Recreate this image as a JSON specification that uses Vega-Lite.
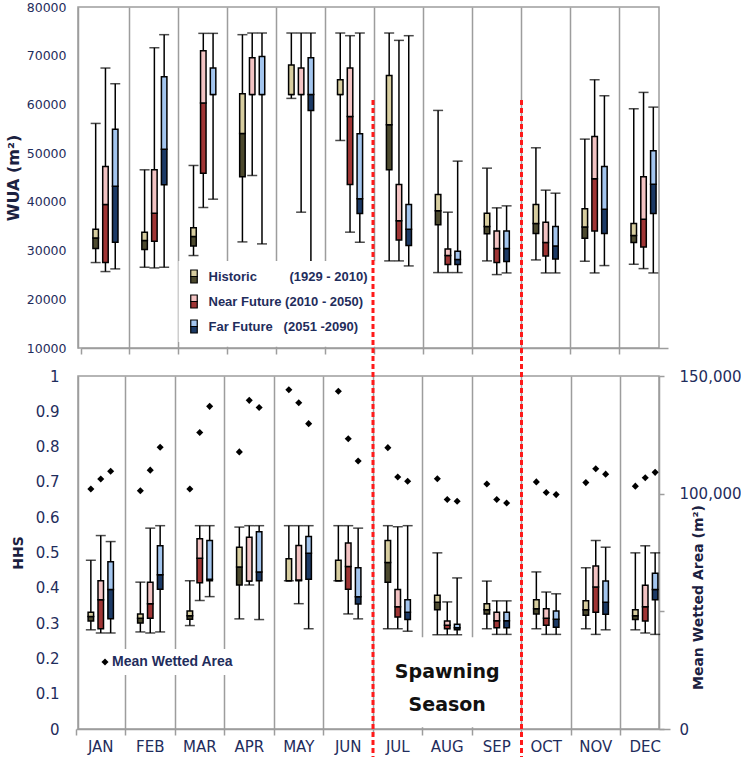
{
"$schema": "https://vega.github.io/schema/vega-lite/v6.json",
"padding": {"left": 4, "top": 0, "right": 0, "bottom": 0},
"background": "white",
"bounds": "flush",
"spacing": 28,
"config": {
  "view": {"stroke": "#9d9d9d", "strokeWidth": 1.5},
  "axis": {"labelFont": "DejaVu Sans", "titleFont": "DejaVu Sans", "labelColor": "#1f2d5c", "titleColor": "#1b2140", "domainColor": "#9d9d9d", "tickColor": "#9d9d9d", "gridColor": "#9d9d9d", "domainWidth": 1.5, "tickWidth": 1.5, "gridWidth": 1.5, "titleFontWeight": "bold", "labelOverlap": false},
  "legend": {"title": null}
},
"datasets": {
  "wua": [
    {"m":"JAN","s":"Historic","lo":27540,"q1":30410,"md":32600,"q3":34400,"hi":56100},
    {"m":"JAN","s":"Near Future","lo":25690,"q1":27540,"md":39450,"q3":47260,"hi":67470},
    {"m":"JAN","s":"Far Future","lo":26240,"q1":31710,"md":43220,"q3":54930,"hi":64250},
    {"m":"FEB","s":"Historic","lo":26580,"q1":30210,"md":32060,"q3":33770,"hi":46580},
    {"m":"FEB","s":"Near Future","lo":26440,"q1":31920,"md":37670,"q3":46580,"hi":71640},
    {"m":"FEB","s":"Far Future","lo":26580,"q1":43490,"md":50820,"q3":65690,"hi":74320},
    {"m":"MAR","s":"Historic","lo":28980,"q1":30960,"md":32880,"q3":34660,"hi":47470},
    {"m":"MAR","s":"Near Future","lo":38840,"q1":45890,"md":60270,"q3":71030,"hi":74590},
    {"m":"MAR","s":"Far Future","lo":40550,"q1":62060,"md":62060,"q3":67470,"hi":74590},
    {"m":"APR","s":"Historic","lo":31780,"q1":45140,"md":54040,"q3":62190,"hi":74320},
    {"m":"APR","s":"Near Future","lo":45410,"q1":62060,"md":62060,"q3":69590,"hi":74660},
    {"m":"APR","s":"Far Future","lo":31370,"q1":62060,"md":62060,"q3":69860,"hi":74660},
    {"m":"MAY","s":"Historic","lo":61240,"q1":62060,"md":62060,"q3":68080,"hi":74660},
    {"m":"MAY","s":"Near Future","lo":37880,"q1":62060,"md":62060,"q3":67470,"hi":74660},
    {"m":"MAY","s":"Far Future","lo":27540,"q1":58770,"md":62060,"q3":69590,"hi":74660},
    {"m":"JUN","s":"Historic","lo":52600,"q1":62060,"md":62060,"q3":65070,"hi":74660},
    {"m":"JUN","s":"Near Future","lo":33780,"q1":43570,"md":57540,"q3":67470,"hi":74110},
    {"m":"JUN","s":"Far Future","lo":31710,"q1":37610,"md":40620,"q3":53980,"hi":74660},
    {"m":"JUL","s":"Historic","lo":27880,"q1":46580,"md":55820,"q3":65960,"hi":74660},
    {"m":"JUL","s":"Near Future","lo":27880,"q1":32190,"md":36100,"q3":43570,"hi":73150},
    {"m":"JUL","s":"Far Future","lo":26850,"q1":31030,"md":34390,"q3":39450,"hi":74110},
    {"m":"AUG","s":"Historic","lo":25480,"q1":35280,"md":38150,"q3":41510,"hi":58770},
    {"m":"AUG","s":"Near Future","lo":25480,"q1":27120,"md":28970,"q3":30340,"hi":37880},
    {"m":"AUG","s":"Far Future","lo":25480,"q1":27120,"md":28150,"q3":29860,"hi":48360},
    {"m":"SEP","s":"Historic","lo":27880,"q1":33430,"md":34930,"q3":37670,"hi":46920},
    {"m":"SEP","s":"Near Future","lo":25070,"q1":27540,"md":30410,"q3":34040,"hi":38770},
    {"m":"SEP","s":"Far Future","lo":25410,"q1":27740,"md":30410,"q3":34040,"hi":39180},
    {"m":"OCT","s":"Historic","lo":28080,"q1":33500,"md":35550,"q3":39450,"hi":51100},
    {"m":"OCT","s":"Near Future","lo":25410,"q1":28900,"md":31640,"q3":35820,"hi":42400},
    {"m":"OCT","s":"Far Future","lo":25410,"q1":28290,"md":30960,"q3":34930,"hi":41780},
    {"m":"NOV","s":"Historic","lo":27810,"q1":32530,"md":34860,"q3":38560,"hi":52880},
    {"m":"NOV","s":"Near Future","lo":25410,"q1":34040,"md":44730,"q3":53420,"hi":65070},
    {"m":"NOV","s":"Far Future","lo":26920,"q1":33500,"md":38500,"q3":47260,"hi":61780},
    {"m":"DEC","s":"Historic","lo":27190,"q1":31640,"md":33090,"q3":35550,"hi":59110},
    {"m":"DEC","s":"Near Future","lo":26300,"q1":30750,"md":36440,"q3":45140,"hi":62470},
    {"m":"DEC","s":"Far Future","lo":25410,"q1":37610,"md":43630,"q3":50480,"hi":59450}
  ],
  "hhs": [
    {"m":"JAN","s":"Historic","lo":0.281,"q1":0.306,"md":0.319,"q3":0.331,"hi":0.478},
    {"m":"JAN","s":"Near Future","lo":0.272,"q1":0.284,"md":0.366,"q3":0.420,"hi":0.548},
    {"m":"JAN","s":"Far Future","lo":0.272,"q1":0.312,"md":0.395,"q3":0.474,"hi":0.531},
    {"m":"FEB","s":"Historic","lo":0.275,"q1":0.300,"md":0.314,"q3":0.326,"hi":0.416},
    {"m":"FEB","s":"Near Future","lo":0.272,"q1":0.314,"md":0.355,"q3":0.416,"hi":0.569},
    {"m":"FEB","s":"Far Future","lo":0.275,"q1":0.396,"md":0.437,"q3":0.519,"hi":0.576},
    {"m":"MAR","s":"Historic","lo":0.293,"q1":0.311,"md":0.321,"q3":0.334,"hi":0.420},
    {"m":"MAR","s":"Near Future","lo":0.364,"q1":0.414,"md":0.484,"q3":0.539,"hi":0.576},
    {"m":"MAR","s":"Far Future","lo":0.375,"q1":0.420,"md":0.424,"q3":0.534,"hi":0.576},
    {"m":"APR","s":"Historic","lo":0.312,"q1":0.408,"md":0.459,"q3":0.515,"hi":0.572},
    {"m":"APR","s":"Near Future","lo":0.408,"q1":0.419,"md":0.419,"q3":0.543,"hi":0.576},
    {"m":"APR","s":"Far Future","lo":0.310,"q1":0.420,"md":0.445,"q3":0.559,"hi":0.576},
    {"m":"MAY","s":"Historic","lo":0.420,"q1":0.420,"md":0.420,"q3":0.482,"hi":0.576},
    {"m":"MAY","s":"Near Future","lo":0.355,"q1":0.420,"md":0.422,"q3":0.520,"hi":0.576},
    {"m":"MAY","s":"Far Future","lo":0.284,"q1":0.424,"md":0.498,"q3":0.545,"hi":0.576},
    {"m":"JUN","s":"Historic","lo":0.420,"q1":0.420,"md":0.420,"q3":0.478,"hi":0.576},
    {"m":"JUN","s":"Near Future","lo":0.326,"q1":0.396,"md":0.460,"q3":0.527,"hi":0.576},
    {"m":"JUN","s":"Far Future","lo":0.312,"q1":0.354,"md":0.375,"q3":0.457,"hi":0.569},
    {"m":"JUL","s":"Historic","lo":0.284,"q1":0.416,"md":0.472,"q3":0.534,"hi":0.576},
    {"m":"JUL","s":"Near Future","lo":0.284,"q1":0.317,"md":0.346,"q3":0.395,"hi":0.573},
    {"m":"JUL","s":"Far Future","lo":0.277,"q1":0.310,"md":0.331,"q3":0.366,"hi":0.576},
    {"m":"AUG","s":"Historic","lo":0.267,"q1":0.338,"md":0.359,"q3":0.379,"hi":0.499},
    {"m":"AUG","s":"Near Future","lo":0.267,"q1":0.284,"md":0.294,"q3":0.306,"hi":0.360},
    {"m":"AUG","s":"Far Future","lo":0.267,"q1":0.281,"md":0.287,"q3":0.297,"hi":0.428},
    {"m":"SEP","s":"Historic","lo":0.284,"q1":0.326,"md":0.338,"q3":0.355,"hi":0.419},
    {"m":"SEP","s":"Near Future","lo":0.268,"q1":0.287,"md":0.307,"q3":0.331,"hi":0.363},
    {"m":"SEP","s":"Far Future","lo":0.268,"q1":0.287,"md":0.307,"q3":0.331,"hi":0.363},
    {"m":"OCT","s":"Historic","lo":0.284,"q1":0.326,"md":0.341,"q3":0.366,"hi":0.445},
    {"m":"OCT","s":"Near Future","lo":0.268,"q1":0.294,"md":0.314,"q3":0.341,"hi":0.388},
    {"m":"OCT","s":"Far Future","lo":0.268,"q1":0.288,"md":0.311,"q3":0.334,"hi":0.383},
    {"m":"NOV","s":"Historic","lo":0.284,"q1":0.322,"md":0.338,"q3":0.363,"hi":0.457},
    {"m":"NOV","s":"Near Future","lo":0.268,"q1":0.331,"md":0.402,"q3":0.462,"hi":0.534},
    {"m":"NOV","s":"Far Future","lo":0.281,"q1":0.325,"md":0.359,"q3":0.419,"hi":0.515},
    {"m":"DEC","s":"Historic","lo":0.281,"q1":0.310,"md":0.321,"q3":0.338,"hi":0.499},
    {"m":"DEC","s":"Near Future","lo":0.272,"q1":0.306,"md":0.346,"q3":0.407,"hi":0.519},
    {"m":"DEC","s":"Far Future","lo":0.268,"q1":0.366,"md":0.395,"q3":0.441,"hi":0.499}
  ],
  "mwa": [
    {"m":"JAN","s":"Historic","v":102000},{"m":"JAN","s":"Near Future","v":106200},{"m":"JAN","s":"Far Future","v":109500},
    {"m":"FEB","s":"Historic","v":101250},{"m":"FEB","s":"Near Future","v":110000},{"m":"FEB","s":"Far Future","v":119700},
    {"m":"MAR","s":"Historic","v":102000},{"m":"MAR","s":"Near Future","v":126000},{"m":"MAR","s":"Far Future","v":137100},
    {"m":"APR","s":"Historic","v":117750},{"m":"APR","s":"Near Future","v":139650},{"m":"APR","s":"Far Future","v":136650},
    {"m":"MAY","s":"Historic","v":144150},{"m":"MAY","s":"Near Future","v":138600},{"m":"MAY","s":"Far Future","v":129750},
    {"m":"JUN","s":"Historic","v":143550},{"m":"JUN","s":"Near Future","v":123300},{"m":"JUN","s":"Far Future","v":113850},
    {"m":"JUL","s":"Historic","v":119550},{"m":"JUL","s":"Near Future","v":107100},{"m":"JUL","s":"Far Future","v":105300},
    {"m":"AUG","s":"Historic","v":106350},{"m":"AUG","s":"Near Future","v":97500},{"m":"AUG","s":"Far Future","v":96750},
    {"m":"SEP","s":"Historic","v":104100},{"m":"SEP","s":"Near Future","v":97500},{"m":"SEP","s":"Far Future","v":96000},
    {"m":"OCT","s":"Historic","v":105000},{"m":"OCT","s":"Near Future","v":100500},{"m":"OCT","s":"Far Future","v":99600},
    {"m":"NOV","s":"Historic","v":104700},{"m":"NOV","s":"Near Future","v":110550},{"m":"NOV","s":"Far Future","v":108300},
    {"m":"DEC","s":"Historic","v":103200},{"m":"DEC","s":"Near Future","v":106800},{"m":"DEC","s":"Far Future","v":109050}
  ]
},
"vconcat": [
  {
    "width": 581, "height": 341,
    "layer": [
      {"data": {"name": "wua"},
       "encoding": {
         "x": {"field": "m", "type": "nominal",
           "scale": {"domain": ["JAN","FEB","MAR","APR","MAY","JUN","JUL","AUG","SEP","OCT","NOV","DEC"], "range": [3, 590], "paddingInner": 0, "paddingOuter": 0},
           "axis": {"title": null, "labels": false, "ticks": true, "tickSize": 6, "bandPosition": 0, "grid": true,
             "gridOpacity": {"condition": {"test": "datum.value == 'JAN'", "value": 0}, "value": 1}}},
         "xOffset": {"field": "s", "type": "nominal", "scale": {"domain": ["Historic","Near Future","Far Future"], "paddingInner": 0, "paddingOuter": 1}}
       },
       "layer": [
         {"mark": {"type": "rule", "color": "black", "strokeWidth": 1.5},
          "encoding": {
            "y": {"field": "lo", "type": "quantitative", "scale": {"domain": [10000, 80000], "nice": false, "zero": false},
              "axis": {"title": "WUA (m²)", "values": [10000,20000,30000,40000,50000,60000,70000,80000], "format": "d", "ticks": false, "grid": false, "labelPadding": 12, "labelFontSize": 12.5, "titleFontSize": 16, "titleX": -65, "titleBaseline": "middle"}},
            "y2": {"field": "hi"}}},
         {"mark": {"type": "tick", "color": "black", "thickness": 1.5, "size": 10}, "encoding": {"y": {"field": "lo", "type": "quantitative"}}},
         {"mark": {"type": "tick", "color": "black", "thickness": 1.5, "size": 10}, "encoding": {"y": {"field": "hi", "type": "quantitative"}}},
         {"mark": {"type": "bar", "width": 5.5, "stroke": "black", "strokeWidth": 1.5},
          "encoding": {
            "y": {"field": "q1", "type": "quantitative"}, "y2": {"field": "md"},
            "color": {"field": "s", "type": "nominal", "sort": ["Historic","Near Future","Far Future"], "scale": {"range": ["#4d4a2e","#a03535","#1c3a66"]},
              "legend": {"title": null, "orient": "none", "legendX": 100.5, "legendY": 254, "symbolType": "M-0.5,0H0.5V1H-0.5Z", "symbolSize": 169, "symbolStrokeColor": "black", "symbolStrokeWidth": 1.2, "symbolOpacity": 1, "labelFont": "Liberation Sans", "labelFontWeight": "bold", "labelFontSize": 13, "labelColor": "transparent", "labelOffset": 7, "rowPadding": 8, "padding": 8, "zindex": 2, "labelLimit": 400,
                "labelExpr": "datum.label == 'Historic' ? 'Historic\u00a0\u00a0\u00a0\u00a0\u00a0\u00a0\u00a0\u00a0\u00a0(1929 - 2010)' : datum.label == 'Near Future' ? 'Near Future (2010 - 2050)' : '\u00a0Far Future\u00a0\u00a0\u00a0(2051 -2090)'"}}}},
         {"mark": {"type": "bar", "width": 5.5, "stroke": "black", "strokeWidth": 1.5},
          "encoding": {
            "y": {"field": "md", "type": "quantitative"}, "y2": {"field": "q3"},
            "fill": {"field": "s", "type": "nominal", "scale": {"domain": ["Historic","Near Future","Far Future"], "range": ["#d7cd9f","#f3c3c3","#a3c5ee"]},
              "legend": {"title": null, "orient": "none", "legendX": 100.5, "legendY": 254, "symbolType": "M-0.5,-1H0.5V0H-0.5Z", "symbolSize": 169, "symbolStrokeColor": "black", "symbolStrokeWidth": 1.2, "symbolOpacity": 1, "labelFont": "Liberation Sans", "labelFontWeight": "bold", "labelFontSize": 13, "labelColor": "#1f2d5c", "labelOffset": 7, "rowPadding": 8, "padding": 8, "fillColor": "white", "zindex": 1, "labelLimit": 400,
                "labelExpr": "datum.label == 'Historic' ? 'Historic\u00a0\u00a0\u00a0\u00a0\u00a0\u00a0\u00a0\u00a0\u00a0(1929 - 2010)' : datum.label == 'Near Future' ? 'Near Future (2010 - 2050)' : '\u00a0Far Future\u00a0\u00a0\u00a0(2051 -2090)'"}}}}
       ]},
      {"data": {"values": [{}]},
       "mark": {"type": "bar", "width": 188, "color": "white", "strokeWidth": 0},
       "encoding": {
         "x": {"datum": "MAY", "type": "nominal", "bandPosition": 0},
         "y": {"datum": 27100, "type": "quantitative"},
         "y2": {"datum": 10250}}}
    ]
  },
  {
    "width": 581, "height": 353,
    "resolve": {"scale": {"y": "independent"}},
    "layer": [
      {"layer": [
        {"data": {"name": "hhs"},
         "encoding": {
           "x": {"field": "m", "type": "nominal",
             "scale": {"domain": ["JAN","FEB","MAR","APR","MAY","JUN","JUL","AUG","SEP","OCT","NOV","DEC"], "range": [-2, 592], "paddingInner": 0, "paddingOuter": 0},
             "axis": {"title": null, "labels": true, "labelFontSize": 15, "labelPadding": 4, "ticks": true, "tickSize": 6, "bandPosition": 0, "grid": true, "labelAngle": 0,
               "gridOpacity": {"condition": {"test": "datum.value == 'JAN'", "value": 0}, "value": 1}}},
           "xOffset": {"field": "s", "type": "nominal", "scale": {"domain": ["Historic","Near Future","Far Future"], "paddingInner": 0, "paddingOuter": 1}}
         },
         "layer": [
           {"mark": {"type": "rule", "color": "black", "strokeWidth": 1.5},
            "encoding": {
              "y": {"field": "lo", "type": "quantitative", "scale": {"domain": [0, 1], "nice": false, "zero": false},
                "axis": {"title": "HHS", "tickCount": 10, "format": ".1~f", "ticks": false, "grid": false, "labelPadding": 19, "labelFontSize": 15, "titleFontSize": 14, "titleX": -60, "titleBaseline": "middle", "labelOverlap": false, "labelSeparation": 0}},
              "y2": {"field": "hi"}}},
           {"mark": {"type": "tick", "color": "black", "thickness": 1.5, "size": 10}, "encoding": {"y": {"field": "lo", "type": "quantitative"}}},
           {"mark": {"type": "tick", "color": "black", "thickness": 1.5, "size": 10}, "encoding": {"y": {"field": "hi", "type": "quantitative"}}},
           {"mark": {"type": "bar", "width": 5.5, "stroke": "black", "strokeWidth": 1.5},
            "encoding": {
              "y": {"field": "q1", "type": "quantitative"}, "y2": {"field": "md"},
              "color": {"field": "s", "type": "nominal", "scale": {"domain": ["Historic","Near Future","Far Future"], "range": ["#4d4a2e","#a03535","#1c3a66"]}, "legend": null}}},
           {"mark": {"type": "bar", "width": 5.5, "stroke": "black", "strokeWidth": 1.5},
            "encoding": {
              "y": {"field": "md", "type": "quantitative"}, "y2": {"field": "q3"},
              "fill": {"field": "s", "type": "nominal", "scale": {"domain": ["Historic","Near Future","Far Future"], "range": ["#d7cd9f","#f3c3c3","#a3c5ee"]}, "legend": null}}}
         ]},
        {"data": {"values": [{}]},
         "mark": {"type": "bar", "width": 124, "color": "white", "strokeWidth": 0},
         "encoding": {
           "x": {"datum": "AUG", "type": "nominal"},
           "y": {"datum": 0.26, "type": "quantitative"},
           "y2": {"datum": 0.005}}},
        {"data": {"values": [{"m": "JUL"}, {"m": "OCT"}]},
         "mark": {"type": "rule", "color": "#ff1a1a", "strokeWidth": 3, "strokeDash": [5, 3]},
         "encoding": {
           "x": {"field": "m", "type": "nominal", "bandPosition": 0},
           "y": {"datum": 1.782, "type": "quantitative"},
           "y2": {"datum": -0.08}}},
        {"data": {"values": [{"m": "AUG", "t": "Spawning\nSeason"}]},
         "mark": {"type": "text", "font": "DejaVu Sans", "fontWeight": "bold", "fontSize": 19, "color": "#111111", "lineBreak": "\n", "lineHeight": 33, "baseline": "middle", "align": "center"},
         "encoding": {
           "x": {"field": "m", "type": "nominal"},
           "y": {"datum": 0.161, "type": "quantitative"},
           "text": {"field": "t"}}}
      ]},
      {"data": {"name": "mwa"},
       "mark": {"type": "point", "filled": true, "color": "black", "size": 50, "opacity": 1},
       "encoding": {
         "x": {"field": "m", "type": "nominal"},
         "xOffset": {"field": "s", "type": "nominal"},
         "y": {"field": "v", "type": "quantitative", "scale": {"domain": [0, 150000], "nice": false},
           "axis": {"orient": "right", "title": "Mean Wetted Area (m²)", "values": [0, 50000, 100000, 150000], "labelExpr": "datum.value == 50000 ? '' : format(datum.value, ',')", "ticks": true, "tickSize": 5, "labelPadding": 15, "labelFontSize": 15, "grid": false, "titleFontSize": 14, "titleAngle": 270, "titleX": 39, "titleY": 221, "titleBaseline": "middle", "titleAlign": "center", "labelOverlap": false}},
         "shape": {"datum": "Mean Wetted Area", "scale": {"range": ["diamond"]},
           "legend": {"title": null, "orient": "none", "legendX": 14, "legendY": 273, "symbolSize": 50, "symbolFillColor": "black", "symbolStrokeColor": "black", "symbolOpacity": 1, "labelFont": "Liberation Sans", "labelFontWeight": "bold", "labelFontSize": 14, "labelColor": "#1f2d5c", "labelOffset": 0, "padding": 6, "fillColor": "white"}}
       }}
    ]
  }
],
"resolve": {"scale": {"x": "independent", "y": "independent", "xOffset": "independent", "color": "independent", "fill": "independent", "shape": "independent"}, "legend": {"color": "independent", "fill": "independent", "shape": "independent"}}
}
